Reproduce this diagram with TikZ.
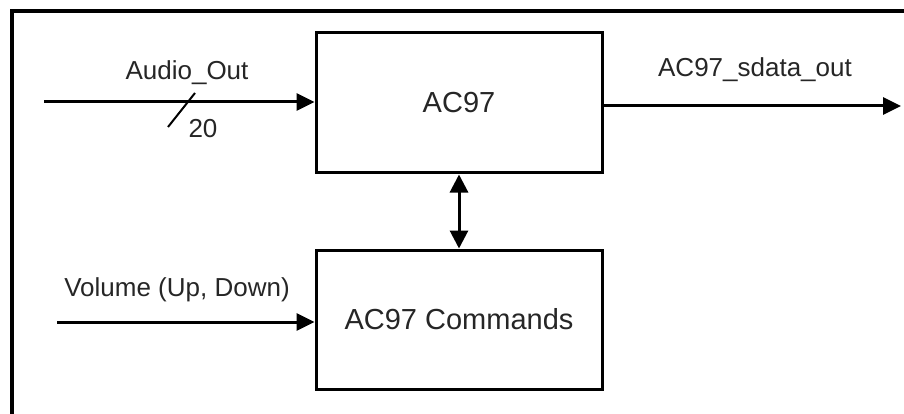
\documentclass[tikz,border=0pt]{standalone}
\usepackage{fontspec}
\setmainfont{Liberation Sans}
\usetikzlibrary{arrows.meta}
\begin{document}
\begin{tikzpicture}[x=1pt,y=-1pt,
  blk/.style={draw=black,line width=3pt,rectangle,minimum width=286pt,inner sep=0pt,
    font=\fontsize{29}{34}\selectfont,text=black!85},
  lbl/.style={inner sep=0pt,anchor=base,font=\fontsize{26}{31}\selectfont,text=black!85},
  sig/.style={line width=3pt,-{Triangle[length=18pt,width=17pt]}},
  bisig/.style={line width=3pt,{Triangle[length=18pt,width=18pt]}-{Triangle[length=18pt,width=18pt]}}]
\useasboundingbox (0,0) rectangle (904,414);
\fill[white] (0,0) rectangle (904,414);
\draw[line width=3.5pt] (12,420) -- (12,11) -- (910,11);
\node[blk,minimum height=140pt] (ac) at (459,103) {AC97};
\node[blk,minimum height=139pt] (cmd) at (459,319.5) {AC97 Commands};
\coordinate (ain) at (44,102);
\coordinate (vin) at (57,322);
\coordinate (aout) at (901,106);
\draw[sig] (ain) -- (ac.west |- ain);
\draw[sig] (vin) -- (cmd.west |- vin);
\draw[sig] (ac.east |- aout) -- (aout);
\draw[bisig] (ac.south) -- (cmd.north);
\coordinate (s1) at (168,127);
\coordinate (s2) at (195,93);
\draw[line width=2pt] (s1) -- (s2);
\node[lbl] (laudio) at (187,80) {Audio\_Out};
\node[lbl] (l20) at (203,138) {20};
\node[lbl] (lout) at (755,77) {AC97\_sdata\_out};
\node[lbl] (lvol) at (177,296) {Volume (Up, Down)};
\end{tikzpicture}
\end{document}
